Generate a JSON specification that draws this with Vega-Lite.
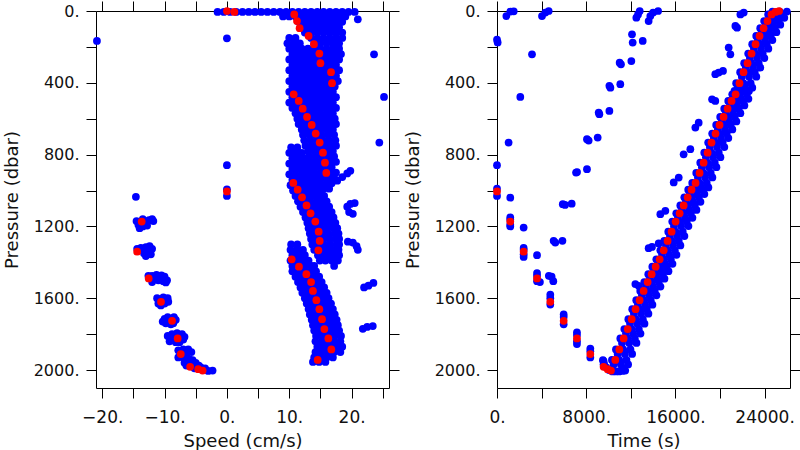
{
"$schema": "https://vega.github.io/schema/vega-lite/v6.json",
"autosize": {"type": "pad"},
"padding": {"left": 2, "top": 0, "right": 0, "bottom": 0},
"bounds": "flush",
"spacing": 108,
"config": {
  "font": "DejaVu Sans",
  "view": {"stroke": "#000", "strokeWidth": 1},
  "axis": {"grid": false, "domain": false, "tickSize": 10, "tickColor": "#000", "tickWidth": 1,
    "labelFont": "DejaVu Sans", "labelFontSize": 16, "labelColor": "#111",
    "titleFont": "DejaVu Sans", "titleFontSize": 18, "titleFontWeight": "normal", "titleColor": "#111",
    "labelOverlap": false, "labelFlush": false},
  "axisX": {"labelFontSize": 17},
  "point": {"filled": true, "size": 60, "opacity": 1, "strokeWidth": 0}
},
"datasets": {
"red": [
{"p":1005,"s":0,"t":0},{"p":1173,"s":-13.67,"t":1190},{"p":1341,"s":-14.4,"t":2390},{"p":1490,"s":-12.55,"t":3590},{"p":1620,"s":-10.57,"t":4780},{"p":1726,"s":-8.8,"t":5980},{"p":1824,"s":-7.9,"t":7170},{"p":1911,"s":-7.4,"t":8370},{"p":1982,"s":-5.9,"t":9560},{"p":1995,"s":-4.6,"t":9920},{"p":2003,"s":-3.9,"t":10220},
{"p":1944,"s":14.56,"t":10610},{"p":1885,"s":16.75,"t":10970},{"p":1824,"s":16.27,"t":11360},{"p":1772,"s":15.63,"t":11720},{"p":1717,"s":15.26,"t":12080},{"p":1661,"s":14.83,"t":12430},{"p":1611,"s":14.35,"t":12790},{"p":1559,"s":13.8,"t":13150},{"p":1510,"s":13.5,"t":13510},{"p":1466,"s":12.74,"t":13870},{"p":1424,"s":11.56,"t":14230},{"p":1383,"s":10.39,"t":14590},
{"p":1333,"s":14.67,"t":14950},{"p":1281,"s":14.88,"t":15300},{"p":1229,"s":14.72,"t":15660},{"p":1173,"s":14.18,"t":16020},{"p":1127,"s":13.42,"t":16380},{"p":1083,"s":12.77,"t":16740},{"p":1038,"s":12.05,"t":17100},{"p":995,"s":11.35,"t":17450},{"p":958,"s":10.65,"t":17810},
{"p":902,"s":15.94,"t":18170},{"p":845,"s":15.73,"t":18530},{"p":789,"s":15.41,"t":18890},{"p":733,"s":14.88,"t":19240},{"p":683,"s":14.24,"t":19600},{"p":635,"s":13.6,"t":19960},{"p":590,"s":12.85,"t":20320},{"p":544,"s":12.16,"t":20680},{"p":501,"s":11.52,"t":21040},{"p":464,"s":10.71,"t":21400},
{"p":402,"s":16.86,"t":21750},{"p":341,"s":16.7,"t":22110},{"p":291,"s":15.0,"t":22470},{"p":237,"s":14.83,"t":22830},{"p":185,"s":13.96,"t":23190},{"p":139,"s":13.1,"t":23550},{"p":96,"s":11.66,"t":23910},{"p":56,"s":11.24,"t":24260},{"p":19,"s":10.8,"t":24620},{"p":5,"s":1.2,"t":24980},{"p":0,"s":0,"t":25300}
],
"blueL": [
{"s":-1.5,"p":5},{"s":-0.5,"p":5},{"s":0.5,"p":5},{"s":1.5,"p":5},{"s":2.5,"p":5},{"s":3.5,"p":5},{"s":4.5,"p":5},{"s":5.5,"p":5},{"s":6.5,"p":5},{"s":7.5,"p":5},{"s":8.5,"p":5},{"s":9.5,"p":5},{"s":10.5,"p":5},{"s":11.5,"p":5},{"s":12.5,"p":5},{"s":13.5,"p":5},{"s":14.5,"p":5},{"s":15.5,"p":5},{"s":16.5,"p":5},{"s":17.5,"p":5},{"s":18.5,"p":5},{"s":19.5,"p":5},{"s":20.5,"p":5},
{"s":9,"p":30},{"s":10,"p":30},{"s":11,"p":30},{"s":12,"p":30},{"s":13,"p":30},{"s":14,"p":30},{"s":15,"p":30},{"s":16,"p":30},{"s":17,"p":30},{"s":18,"p":30},{"s":19,"p":30},
{"s":11.5,"p":60},{"s":12.5,"p":60},{"s":13.5,"p":60},{"s":14.5,"p":60},{"s":15.5,"p":60},{"s":16.5,"p":60},{"s":17.5,"p":60},{"s":18.5,"p":60},
{"s":12,"p":90},{"s":13,"p":90},{"s":14,"p":90},{"s":15,"p":90},{"s":16,"p":90},{"s":17,"p":90},{"s":18,"p":90},
{"s":12.5,"p":120},{"s":13.5,"p":120},{"s":14.5,"p":120},{"s":15.5,"p":120},{"s":16.5,"p":120},{"s":17.5,"p":120},{"s":18.5,"p":120},
{"s":10,"p":150},{"s":11,"p":150},{"s":13.5,"p":150},{"s":14.5,"p":150},{"s":15.5,"p":150},{"s":16.5,"p":150},{"s":17.5,"p":150},{"s":18.5,"p":150},
{"s":9.7,"p":180},{"s":10.7,"p":180},{"s":11.7,"p":180},{"s":14,"p":180},{"s":15,"p":180},{"s":16,"p":180},{"s":17,"p":180},{"s":18,"p":180},
{"s":10,"p":210},{"s":11,"p":210},{"s":12,"p":210},{"s":13,"p":210},{"s":14,"p":210},{"s":15,"p":210},{"s":16,"p":210},{"s":17,"p":210},{"s":18,"p":210},
{"s":10.5,"p":240},{"s":11.5,"p":240},{"s":12.5,"p":240},{"s":13.5,"p":240},{"s":14.5,"p":240},{"s":15.5,"p":240},{"s":16.5,"p":240},{"s":17.5,"p":240},{"s":18.3,"p":240},
{"s":10,"p":270},{"s":11,"p":270},{"s":12,"p":270},{"s":13,"p":270},{"s":14,"p":270},{"s":15,"p":270},{"s":16,"p":270},{"s":17,"p":270},{"s":18,"p":270},
{"s":10.5,"p":300},{"s":11.5,"p":300},{"s":12.5,"p":300},{"s":13.5,"p":300},{"s":14.5,"p":300},{"s":15.5,"p":300},{"s":16.5,"p":300},{"s":17.5,"p":300},
{"s":10,"p":330},{"s":11,"p":330},{"s":12,"p":330},{"s":13,"p":330},{"s":14,"p":330},{"s":15,"p":330},{"s":16,"p":330},{"s":17,"p":330},{"s":18,"p":330},
{"s":10.5,"p":360},{"s":11.5,"p":360},{"s":12.5,"p":360},{"s":13.5,"p":360},{"s":14.5,"p":360},{"s":15.5,"p":360},{"s":16.5,"p":360},{"s":17.5,"p":360},
{"s":10,"p":390},{"s":11,"p":390},{"s":12,"p":390},{"s":13,"p":390},{"s":14,"p":390},{"s":15,"p":390},{"s":16,"p":390},{"s":17,"p":390},{"s":17.8,"p":390},
{"s":10.5,"p":420},{"s":11.5,"p":420},{"s":12.5,"p":420},{"s":13.5,"p":420},{"s":14.5,"p":420},{"s":15.5,"p":420},{"s":16.5,"p":420},{"s":17.3,"p":420},
{"s":10,"p":450},{"s":11,"p":450},{"s":12,"p":450},{"s":13,"p":450},{"s":14,"p":450},{"s":15,"p":450},{"s":16,"p":450},{"s":17,"p":450},
{"s":10.5,"p":480},{"s":11.5,"p":480},{"s":12.5,"p":480},{"s":13.5,"p":480},{"s":14.5,"p":480},{"s":15.5,"p":480},{"s":16.5,"p":480},{"s":17.5,"p":480},
{"s":10,"p":510},{"s":11,"p":510},{"s":12,"p":510},{"s":13,"p":510},{"s":14,"p":510},{"s":15,"p":510},{"s":16,"p":510},{"s":17,"p":510},
{"s":10.5,"p":540},{"s":11.5,"p":540},{"s":12.5,"p":540},{"s":13.5,"p":540},{"s":14.5,"p":540},{"s":15.5,"p":540},{"s":16.5,"p":540},{"s":17.5,"p":540},
{"s":11,"p":570},{"s":12,"p":570},{"s":13,"p":570},{"s":14,"p":570},{"s":15,"p":570},{"s":16,"p":570},{"s":17,"p":570},
{"s":11.3,"p":600},{"s":12.3,"p":600},{"s":13.3,"p":600},{"s":14.3,"p":600},{"s":15.3,"p":600},{"s":16.3,"p":600},{"s":17.3,"p":600},
{"s":11.5,"p":630},{"s":12.5,"p":630},{"s":13.5,"p":630},{"s":14.5,"p":630},{"s":15.5,"p":630},{"s":16.5,"p":630},{"s":17.5,"p":630},
{"s":12,"p":660},{"s":13,"p":660},{"s":14,"p":660},{"s":15,"p":660},{"s":16,"p":660},{"s":17,"p":660},
{"s":12.2,"p":690},{"s":13.2,"p":690},{"s":14.2,"p":690},{"s":15.2,"p":690},{"s":16.2,"p":690},{"s":17.2,"p":690},
{"s":12.4,"p":720},{"s":13.4,"p":720},{"s":14.4,"p":720},{"s":15.4,"p":720},{"s":16.4,"p":720},{"s":17.4,"p":720},
{"s":12.6,"p":750},{"s":13.6,"p":750},{"s":14.6,"p":750},{"s":15.6,"p":750},{"s":16.6,"p":750},{"s":17.5,"p":750},
{"s":13,"p":780},{"s":14,"p":780},{"s":15,"p":780},{"s":16,"p":780},{"s":17,"p":780},
{"s":13.2,"p":810},{"s":14.2,"p":810},{"s":15.2,"p":810},{"s":16.2,"p":810},{"s":17.2,"p":810},
{"s":13.5,"p":840},{"s":14.5,"p":840},{"s":15.5,"p":840},{"s":16.5,"p":840},{"s":17.5,"p":840},
{"s":13.8,"p":870},{"s":14.8,"p":870},{"s":15.8,"p":870},{"s":16.8,"p":870},
{"s":14,"p":900},{"s":15,"p":900},{"s":16,"p":900},{"s":17,"p":900},{"s":17.5,"p":900},
{"s":14.5,"p":930},{"s":15.5,"p":930},{"s":16.5,"p":930},{"s":17.2,"p":930},
{"s":15,"p":960},{"s":16,"p":960},{"s":16.8,"p":960},
{"s":15.5,"p":990},{"s":16.4,"p":990},
{"s":10.3,"p":760},{"s":11.3,"p":760},
{"s":10,"p":790},{"s":11,"p":790},{"s":12,"p":790},
{"s":10.5,"p":820},{"s":11.5,"p":820},{"s":12.5,"p":820},
{"s":10,"p":850},{"s":11,"p":850},{"s":12,"p":850},{"s":13,"p":850},
{"s":10.5,"p":880},{"s":11.5,"p":880},{"s":12.5,"p":880},{"s":13.5,"p":880},
{"s":10,"p":910},{"s":11,"p":910},{"s":12,"p":910},{"s":13,"p":910},{"s":13.8,"p":910},
{"s":10.5,"p":940},{"s":11.5,"p":940},{"s":12.5,"p":940},{"s":13.5,"p":940},{"s":14.3,"p":940},
{"s":10.2,"p":970},{"s":11.2,"p":970},{"s":12.2,"p":970},{"s":13.2,"p":970},{"s":14.2,"p":970},{"s":14.7,"p":970},
{"s":10.6,"p":1000},{"s":11.6,"p":1000},{"s":12.6,"p":1000},{"s":13.6,"p":1000},{"s":14.6,"p":1000},{"s":15.1,"p":1000},
{"s":11,"p":1030},{"s":12,"p":1030},{"s":13,"p":1030},{"s":14,"p":1030},{"s":15,"p":1030},{"s":15.6,"p":1030},
{"s":11.4,"p":1060},{"s":12.4,"p":1060},{"s":13.4,"p":1060},{"s":14.4,"p":1060},{"s":15.4,"p":1060},{"s":16,"p":1060},
{"s":11.8,"p":1090},{"s":12.8,"p":1090},{"s":13.8,"p":1090},{"s":14.8,"p":1090},{"s":15.8,"p":1090},{"s":16.4,"p":1090},
{"s":12.2,"p":1120},{"s":13.2,"p":1120},{"s":14.2,"p":1120},{"s":15.2,"p":1120},{"s":16.2,"p":1120},{"s":16.8,"p":1120},
{"s":12.6,"p":1150},{"s":13.6,"p":1150},{"s":14.6,"p":1150},{"s":15.6,"p":1150},{"s":16.6,"p":1150},{"s":17.1,"p":1150},
{"s":12.9,"p":1180},{"s":13.9,"p":1180},{"s":14.9,"p":1180},{"s":15.9,"p":1180},{"s":16.9,"p":1180},{"s":17.4,"p":1180},
{"s":13.1,"p":1210},{"s":14.1,"p":1210},{"s":15.1,"p":1210},{"s":16.1,"p":1210},{"s":17.1,"p":1210},{"s":17.7,"p":1210},
{"s":13.3,"p":1240},{"s":14.3,"p":1240},{"s":15.3,"p":1240},{"s":16.3,"p":1240},{"s":17.3,"p":1240},{"s":17.9,"p":1240},
{"s":13.5,"p":1270},{"s":14.5,"p":1270},{"s":15.5,"p":1270},{"s":16.5,"p":1270},{"s":17.5,"p":1270},{"s":18,"p":1270},
{"s":13.7,"p":1300},{"s":14.6,"p":1300},{"s":15.6,"p":1300},{"s":16.6,"p":1300},{"s":17.6,"p":1300},{"s":18,"p":1300},
{"s":14,"p":1330},{"s":14.9,"p":1330},{"s":15.9,"p":1330},{"s":16.9,"p":1330},{"s":17.9,"p":1330},
{"s":14.6,"p":1360},{"s":15.4,"p":1360},{"s":16.3,"p":1360},{"s":17.3,"p":1360},{"s":18,"p":1360},
{"s":14.9,"p":1390},{"s":15.8,"p":1390},{"s":16.8,"p":1390},{"s":17.8,"p":1390},
{"s":17.2,"p":1420},
{"s":10.3,"p":1300},{"s":11.3,"p":1300},
{"s":10.2,"p":1330},{"s":11.2,"p":1330},{"s":12.2,"p":1330},
{"s":10.5,"p":1360},{"s":11.5,"p":1360},{"s":12.5,"p":1360},
{"s":10.2,"p":1390},{"s":11.2,"p":1390},{"s":12.2,"p":1390},{"s":13.1,"p":1390},
{"s":10.5,"p":1420},{"s":11.5,"p":1420},{"s":12.5,"p":1420},{"s":13.5,"p":1420},{"s":14,"p":1420},
{"s":10.5,"p":1450},{"s":11.5,"p":1450},{"s":12.5,"p":1450},{"s":13.5,"p":1450},{"s":14.3,"p":1450},
{"s":11,"p":1480},{"s":12,"p":1480},{"s":13,"p":1480},{"s":14,"p":1480},{"s":14.8,"p":1480},
{"s":11.4,"p":1510},{"s":12.4,"p":1510},{"s":13.4,"p":1510},{"s":14.4,"p":1510},{"s":15.2,"p":1510},
{"s":11.8,"p":1540},{"s":12.8,"p":1540},{"s":13.8,"p":1540},{"s":14.8,"p":1540},{"s":15.6,"p":1540},
{"s":12.1,"p":1570},{"s":13.1,"p":1570},{"s":14.1,"p":1570},{"s":15.1,"p":1570},{"s":16,"p":1570},
{"s":12.5,"p":1600},{"s":13.5,"p":1600},{"s":14.5,"p":1600},{"s":15.5,"p":1600},{"s":16.3,"p":1600},
{"s":12.8,"p":1630},{"s":13.8,"p":1630},{"s":14.8,"p":1630},{"s":15.8,"p":1630},{"s":16.7,"p":1630},
{"s":13.1,"p":1660},{"s":14.1,"p":1660},{"s":15.1,"p":1660},{"s":16.1,"p":1660},{"s":17,"p":1660},
{"s":13.3,"p":1690},{"s":14.3,"p":1690},{"s":15.3,"p":1690},{"s":16.3,"p":1690},{"s":17.3,"p":1690},
{"s":13.6,"p":1720},{"s":14.6,"p":1720},{"s":15.6,"p":1720},{"s":16.6,"p":1720},{"s":17.6,"p":1720},
{"s":13.8,"p":1750},{"s":14.8,"p":1750},{"s":15.8,"p":1750},{"s":16.8,"p":1750},{"s":17.8,"p":1750},
{"s":14,"p":1780},{"s":15,"p":1780},{"s":16,"p":1780},{"s":17,"p":1780},{"s":18,"p":1780},
{"s":14.3,"p":1810},{"s":15.3,"p":1810},{"s":16.3,"p":1810},{"s":17.3,"p":1810},{"s":18.3,"p":1810},
{"s":14.2,"p":1840},{"s":15.2,"p":1840},{"s":16.2,"p":1840},{"s":17.2,"p":1840},{"s":18.2,"p":1840},
{"s":14.5,"p":1870},{"s":15.5,"p":1870},{"s":16.5,"p":1870},{"s":17.5,"p":1870},{"s":18.5,"p":1870},
{"s":14.2,"p":1900},{"s":15.2,"p":1900},{"s":16.2,"p":1900},{"s":17.2,"p":1900},{"s":18.2,"p":1900},
{"s":14,"p":1930},{"s":15,"p":1930},{"s":16,"p":1930},{"s":17,"p":1930},
{"s":13.8,"p":1955},{"s":14.8,"p":1955},{"s":15.8,"p":1955},
{"s":-14.6,"p":1035},
{"s":-14.5,"p":1170},{"s":-14.2,"p":1190},{"s":-13.5,"p":1200},{"s":-13,"p":1180},{"s":-12.5,"p":1165},{"s":-12,"p":1160},{"s":-11.8,"p":1170},{"s":-13.5,"p":1160},{"s":-14,"p":1210},{"s":-12.8,"p":1195},
{"s":-14.4,"p":1325},{"s":-13.8,"p":1320},{"s":-13,"p":1315},{"s":-12.4,"p":1310},{"s":-12,"p":1325},{"s":-12.5,"p":1340},{"s":-13.3,"p":1350},{"s":-13,"p":1365},{"s":-12.2,"p":1355},
{"s":-12.6,"p":1475},{"s":-12,"p":1475},{"s":-11.3,"p":1470},{"s":-10.5,"p":1472},{"s":-10,"p":1480},{"s":-9.6,"p":1500},{"s":-11.5,"p":1495},{"s":-11,"p":1500},{"s":-12,"p":1510},{"s":-10.2,"p":1505},{"s":-9.8,"p":1512},
{"s":-11.2,"p":1600},{"s":-10.2,"p":1595},{"s":-9.5,"p":1600},{"s":-9.4,"p":1620},{"s":-10,"p":1630},{"s":-11,"p":1630},{"s":-9.8,"p":1615},{"s":-10.6,"p":1640},
{"s":-10,"p":1715},{"s":-9.5,"p":1705},{"s":-8.5,"p":1705},{"s":-8.2,"p":1720},{"s":-9.8,"p":1740},{"s":-9,"p":1745},{"s":-10.3,"p":1730},{"s":-8.6,"p":1740},
{"s":-9.5,"p":1810},{"s":-8.8,"p":1800},{"s":-8,"p":1795},{"s":-7.2,"p":1800},{"s":-6.8,"p":1815},{"s":-8.8,"p":1830},{"s":-9.2,"p":1840},{"s":-8.2,"p":1845},{"s":-7,"p":1830},{"s":-7.6,"p":1845},
{"s":-7.8,"p":1890},{"s":-7,"p":1885},{"s":-6.2,"p":1885},{"s":-5.7,"p":1900},{"s":-6.5,"p":1915},{"s":-7.8,"p":1930},{"s":-6.8,"p":1935},{"s":-6,"p":1940},{"s":-5.5,"p":1945},
{"s":-6.8,"p":1960},{"s":-6,"p":1955},{"s":-5,"p":1960},{"s":-4.5,"p":1975},{"s":-5.2,"p":1990},{"s":-3,"p":2005},{"s":-2.3,"p":2003},{"s":-4.2,"p":1985},{"s":-6.5,"p":1975},{"s":-3.5,"p":1990},
{"s":-20.85,"p":167},{"s":0,"p":152},{"s":0,"p":859},{"s":0,"p":993},{"s":0,"p":1030},
{"s":21,"p":46},{"s":23.6,"p":241},{"s":25.2,"p":479},{"s":24.45,"p":733},
{"s":17.7,"p":945},{"s":18.5,"p":925},{"s":19.3,"p":905},{"s":19.8,"p":890},
{"s":19.3,"p":1090},{"s":19.8,"p":1075},{"s":20.5,"p":1070},{"s":19.6,"p":1120},{"s":20.2,"p":1130},
{"s":19.4,"p":1285},{"s":20.2,"p":1290},{"s":20.8,"p":1310},{"s":21,"p":1330},
{"s":22,"p":1540},{"s":22.7,"p":1530},{"s":23.5,"p":1515},
{"s":21.8,"p":1770},{"s":22.5,"p":1760},{"s":23.4,"p":1755}
],
"blueR": [
{"t":10310,"p":1944},{"t":10960,"p":1944},{"t":11610,"p":1944},{"t":10460,"p":1969},{"t":11110,"p":1969},{"t":11760,"p":1969},
{"t":10670,"p":1885},{"t":11320,"p":1885},{"t":11970,"p":1885},{"t":10820,"p":1910},{"t":11470,"p":1910},{"t":12120,"p":1910},
{"t":11060,"p":1824},{"t":11710,"p":1824},{"t":12360,"p":1824},{"t":11210,"p":1849},{"t":11860,"p":1849},{"t":12510,"p":1849},
{"t":11420,"p":1772},{"t":12070,"p":1772},{"t":12720,"p":1772},{"t":11570,"p":1797},{"t":12220,"p":1797},{"t":12870,"p":1797},
{"t":11780,"p":1717},{"t":12430,"p":1717},{"t":13080,"p":1717},{"t":11930,"p":1742},{"t":12580,"p":1742},{"t":13230,"p":1742},
{"t":12130,"p":1661},{"t":12780,"p":1661},{"t":13430,"p":1661},{"t":12280,"p":1686},{"t":12930,"p":1686},{"t":13580,"p":1686},
{"t":12490,"p":1611},{"t":13140,"p":1611},{"t":13790,"p":1611},{"t":12640,"p":1636},{"t":13290,"p":1636},{"t":13940,"p":1636},
{"t":12850,"p":1559},{"t":13500,"p":1559},{"t":14150,"p":1559},{"t":13000,"p":1584},{"t":13650,"p":1584},{"t":14300,"p":1584},
{"t":13210,"p":1510},{"t":13860,"p":1510},{"t":14510,"p":1510},{"t":13360,"p":1535},{"t":14010,"p":1535},{"t":14660,"p":1535},
{"t":13570,"p":1466},{"t":14220,"p":1466},{"t":14870,"p":1466},{"t":13720,"p":1491},{"t":14370,"p":1491},{"t":15020,"p":1491},
{"t":13930,"p":1424},{"t":14580,"p":1424},{"t":15230,"p":1424},{"t":14080,"p":1449},{"t":14730,"p":1449},{"t":15380,"p":1449},
{"t":14290,"p":1383},{"t":14940,"p":1383},{"t":15590,"p":1383},{"t":14440,"p":1408},{"t":15090,"p":1408},{"t":15740,"p":1408},
{"t":14650,"p":1333},{"t":15300,"p":1333},{"t":15950,"p":1333},{"t":14800,"p":1358},{"t":15450,"p":1358},{"t":16100,"p":1358},
{"t":15000,"p":1281},{"t":15650,"p":1281},{"t":16300,"p":1281},{"t":15150,"p":1306},{"t":15800,"p":1306},{"t":16450,"p":1306},
{"t":15360,"p":1229},{"t":16010,"p":1229},{"t":16660,"p":1229},{"t":15510,"p":1254},{"t":16160,"p":1254},{"t":16810,"p":1254},
{"t":15720,"p":1173},{"t":16370,"p":1173},{"t":17020,"p":1173},{"t":15870,"p":1198},{"t":16520,"p":1198},{"t":17170,"p":1198},
{"t":16080,"p":1127},{"t":16730,"p":1127},{"t":17380,"p":1127},{"t":16230,"p":1152},{"t":16880,"p":1152},{"t":17530,"p":1152},
{"t":16440,"p":1083},{"t":17090,"p":1083},{"t":17740,"p":1083},{"t":16590,"p":1108},{"t":17240,"p":1108},{"t":17890,"p":1108},
{"t":16800,"p":1038},{"t":17450,"p":1038},{"t":18100,"p":1038},{"t":16950,"p":1063},{"t":17600,"p":1063},{"t":18250,"p":1063},
{"t":17150,"p":995},{"t":17800,"p":995},{"t":18450,"p":995},{"t":17300,"p":1020},{"t":17950,"p":1020},{"t":18600,"p":1020},
{"t":17510,"p":958},{"t":18160,"p":958},{"t":18810,"p":958},{"t":17660,"p":983},{"t":18310,"p":983},{"t":18960,"p":983},
{"t":17870,"p":902},{"t":18520,"p":902},{"t":19170,"p":902},{"t":18020,"p":927},{"t":18670,"p":927},{"t":19320,"p":927},
{"t":18230,"p":845},{"t":18880,"p":845},{"t":19530,"p":845},{"t":18380,"p":870},{"t":19030,"p":870},{"t":19680,"p":870},
{"t":18590,"p":789},{"t":19240,"p":789},{"t":19890,"p":789},{"t":18740,"p":814},{"t":19390,"p":814},{"t":20040,"p":814},
{"t":18940,"p":733},{"t":19590,"p":733},{"t":20240,"p":733},{"t":19090,"p":758},{"t":19740,"p":758},{"t":20390,"p":758},
{"t":19300,"p":683},{"t":19950,"p":683},{"t":20600,"p":683},{"t":19450,"p":708},{"t":20100,"p":708},{"t":20750,"p":708},
{"t":19660,"p":635},{"t":20310,"p":635},{"t":20960,"p":635},{"t":19810,"p":660},{"t":20460,"p":660},{"t":21110,"p":660},
{"t":20020,"p":590},{"t":20670,"p":590},{"t":21320,"p":590},{"t":20170,"p":615},{"t":20820,"p":615},{"t":21470,"p":615},
{"t":20380,"p":544},{"t":21030,"p":544},{"t":21680,"p":544},{"t":20530,"p":569},{"t":21180,"p":569},{"t":21830,"p":569},
{"t":20740,"p":501},{"t":21390,"p":501},{"t":22040,"p":501},{"t":20890,"p":526},{"t":21540,"p":526},{"t":22190,"p":526},
{"t":21100,"p":464},{"t":21750,"p":464},{"t":22400,"p":464},{"t":21250,"p":489},{"t":21900,"p":489},{"t":22550,"p":489},
{"t":21450,"p":402},{"t":22100,"p":402},{"t":22750,"p":402},{"t":21600,"p":427},{"t":22250,"p":427},{"t":22900,"p":427},{"t":21300,"p":445},{"t":21950,"p":445},{"t":22600,"p":445},
{"t":21810,"p":341},{"t":22460,"p":341},{"t":23110,"p":341},{"t":21960,"p":366},{"t":22610,"p":366},{"t":23260,"p":366},
{"t":22170,"p":291},{"t":22820,"p":291},{"t":23470,"p":291},{"t":22320,"p":316},{"t":22970,"p":316},{"t":23620,"p":316},
{"t":22530,"p":237},{"t":23180,"p":237},{"t":23830,"p":237},{"t":22680,"p":262},{"t":23330,"p":262},{"t":23980,"p":262},
{"t":22890,"p":185},{"t":23540,"p":185},{"t":24190,"p":185},{"t":23040,"p":210},{"t":23690,"p":210},{"t":24340,"p":210},
{"t":23250,"p":139},{"t":23900,"p":139},{"t":24550,"p":139},{"t":23400,"p":162},{"t":24050,"p":162},{"t":24700,"p":162},
{"t":23610,"p":96},{"t":24260,"p":96},{"t":24910,"p":96},{"t":23760,"p":118},{"t":24410,"p":118},{"t":25060,"p":118},
{"t":23960,"p":56},{"t":24610,"p":56},{"t":25260,"p":56},{"t":24110,"p":76},{"t":24760,"p":76},{"t":25410,"p":76},
{"t":24320,"p":19},{"t":24970,"p":19},{"t":25620,"p":19},{"t":24470,"p":38},{"t":25120,"p":38},{"t":25770,"p":38},
{"t":24700,"p":3},{"t":25350,"p":3},{"t":26000,"p":3},
{"t":9500,"p":1945},{"t":9600,"p":1965},{"t":9800,"p":1985},{"t":10050,"p":2000},{"t":10350,"p":2008},{"t":10650,"p":2008},{"t":10950,"p":2008},{"t":11250,"p":2005},{"t":11500,"p":2003},{"t":11300,"p":1990},
{"t":0,"p":990},{"t":0,"p":1030},{"t":0,"p":859},{"t":0,"p":160},{"t":60,"p":175},
{"t":1190,"p":1150},{"t":1190,"p":1162},{"t":1190,"p":1190},{"t":1190,"p":1200},{"t":1190,"p":1040},
{"t":2390,"p":1320},{"t":2390,"p":1330},{"t":2390,"p":1355},{"t":2390,"p":1370},{"t":2390,"p":1206},
{"t":3590,"p":1460},{"t":3590,"p":1475},{"t":3590,"p":1505},{"t":3590,"p":1360},{"t":3850,"p":1510},
{"t":4650,"p":1475},{"t":4900,"p":1480},{"t":5050,"p":1505},
{"t":4780,"p":1580},{"t":4780,"p":1600},{"t":4780,"p":1635},
{"t":5980,"p":1690},{"t":5980,"p":1705},{"t":5980,"p":1745},
{"t":7170,"p":1790},{"t":7170,"p":1805},{"t":7170,"p":1840},{"t":7170,"p":1855},
{"t":8370,"p":1880},{"t":8370,"p":1895},{"t":8370,"p":1930},
{"t":9560,"p":1950},{"t":9560,"p":1968},
{"t":1040,"p":733},{"t":2090,"p":479},{"t":3140,"p":241},{"t":840,"p":28},{"t":1200,"p":3},{"t":1500,"p":2},{"t":4036,"p":28},{"t":4335,"p":9},{"t":4635,"p":0},
{"t":5080,"p":1280},{"t":5230,"p":1290},{"t":5870,"p":1280},{"t":5900,"p":1076},{"t":6100,"p":1080},{"t":6700,"p":1073},
{"t":7090,"p":900},{"t":7180,"p":897},{"t":8070,"p":881},{"t":8070,"p":714},{"t":8220,"p":722},{"t":9030,"p":705},
{"t":9120,"p":566},{"t":9180,"p":575},{"t":10080,"p":557},{"t":10080,"p":417},{"t":10170,"p":427},{"t":11060,"p":408},
{"t":11000,"p":288},{"t":11120,"p":297},{"t":12050,"p":279},{"t":12110,"p":130},{"t":12170,"p":176},{"t":13070,"p":167},
{"t":12500,"p":37},{"t":12650,"p":19},{"t":12800,"p":0},{"t":13600,"p":56},{"t":13750,"p":28},{"t":14000,"p":9},{"t":14450,"p":0},
{"t":12410,"p":1521},{"t":12710,"p":1531},{"t":13600,"p":1321},{"t":13900,"p":1314},{"t":14500,"p":1295},{"t":14650,"p":1132},{"t":15100,"p":1113},
{"t":15850,"p":955},{"t":16300,"p":928},{"t":16740,"p":798},{"t":17340,"p":770},{"t":17790,"p":649},{"t":18090,"p":622},{"t":19290,"p":492},{"t":19580,"p":501},
{"t":19580,"p":352},{"t":19880,"p":343},{"t":20270,"p":334},{"t":20780,"p":204},{"t":20930,"p":241},{"t":21380,"p":83},{"t":21530,"p":93},{"t":21830,"p":19},{"t":22130,"p":9}
]
},
"hconcat": [
{
 "width": 293, "height": 377,
 "layer": [
  {"data": {"name": "blueL"}, "mark": {"type": "point", "filled": true, "color": "#0000ff", "size": 60, "opacity": 1},
   "encoding": {
    "x": {"field": "s", "type": "quantitative", "scale": {"domain": [-21, 26], "nice": false, "zero": false},
      "axis": {"orient": "bottom", "values": [-20,-15,-10,-5,0,5,10,15,20,25], "format": "d", "labelExpr": "datum.value % 10 == 0 ? datum.label + '.' : ''", "labelPadding": 11, "title": "Speed (cm/s)", "titleX": 146.5, "titleY": 58, "titleBaseline": "alphabetic"}},
    "y": {"field": "p", "type": "quantitative", "scale": {"domain": [0, 2100], "reverse": true, "nice": false, "zero": false},
      "axis": {"orient": "left", "values": [0,200,400,600,800,1000,1200,1400,1600,1800,2000], "format": "d", "labelExpr": "datum.value % 400 == 0 ? datum.label + '.' : ''", "labelPadding": 7, "title": "Pressure (dbar)", "titleX": -79, "titleY": 188.5, "titleBaseline": "alphabetic", "titleAngle": -90}}
   }},
  {"data": {"name": "red"}, "mark": {"type": "point", "filled": true, "color": "#ff0000", "size": 60, "opacity": 1},
   "encoding": {
    "x": {"field": "s", "type": "quantitative", "scale": {"domain": [-21, 26], "nice": false, "zero": false},
      "axis": {"orient": "top", "values": [-20,-15,-10,-5,0,5,10,15,20,25], "labels": false, "title": null}},
    "y": {"field": "p", "type": "quantitative", "scale": {"domain": [0, 2100], "reverse": true, "nice": false, "zero": false},
      "axis": {"orient": "right", "values": [0,200,400,600,800,1000,1200,1400,1600,1800,2000], "labels": false, "title": null}}
   }}
 ],
 "resolve": {"axis": {"x": "independent", "y": "independent"}}
},
{
 "width": 293, "height": 377,
 "layer": [
  {"data": {"name": "blueR"}, "mark": {"type": "point", "filled": true, "color": "#0000ff", "size": 60, "opacity": 1},
   "encoding": {
    "x": {"field": "t", "type": "quantitative", "scale": {"domain": [0, 26280], "nice": false, "zero": false},
      "axis": {"orient": "bottom", "values": [0,4000,8000,12000,16000,20000,24000], "format": "d", "labelExpr": "datum.value % 8000 == 0 ? datum.label + '.' : ''", "labelPadding": 11, "title": "Time (s)", "titleX": 146.5, "titleY": 58, "titleBaseline": "alphabetic"}},
    "y": {"field": "p", "type": "quantitative", "scale": {"domain": [0, 2100], "reverse": true, "nice": false, "zero": false},
      "axis": {"orient": "left", "values": [0,200,400,600,800,1000,1200,1400,1600,1800,2000], "format": "d", "labelExpr": "datum.value % 400 == 0 ? datum.label + '.' : ''", "labelPadding": 7, "title": "Pressure (dbar)", "titleX": -79, "titleY": 188.5, "titleBaseline": "alphabetic", "titleAngle": -90}}
   }},
  {"data": {"name": "red"}, "mark": {"type": "point", "filled": true, "color": "#ff0000", "size": 60, "opacity": 1},
   "encoding": {
    "x": {"field": "t", "type": "quantitative", "scale": {"domain": [0, 26280], "nice": false, "zero": false},
      "axis": {"orient": "top", "values": [0,4000,8000,12000,16000,20000,24000], "labels": false, "title": null}},
    "y": {"field": "p", "type": "quantitative", "scale": {"domain": [0, 2100], "reverse": true, "nice": false, "zero": false},
      "axis": {"orient": "right", "values": [0,200,400,600,800,1000,1200,1400,1600,1800,2000], "labels": false, "title": null}}
   }}
 ],
 "resolve": {"axis": {"x": "independent", "y": "independent"}}
}
]
}
